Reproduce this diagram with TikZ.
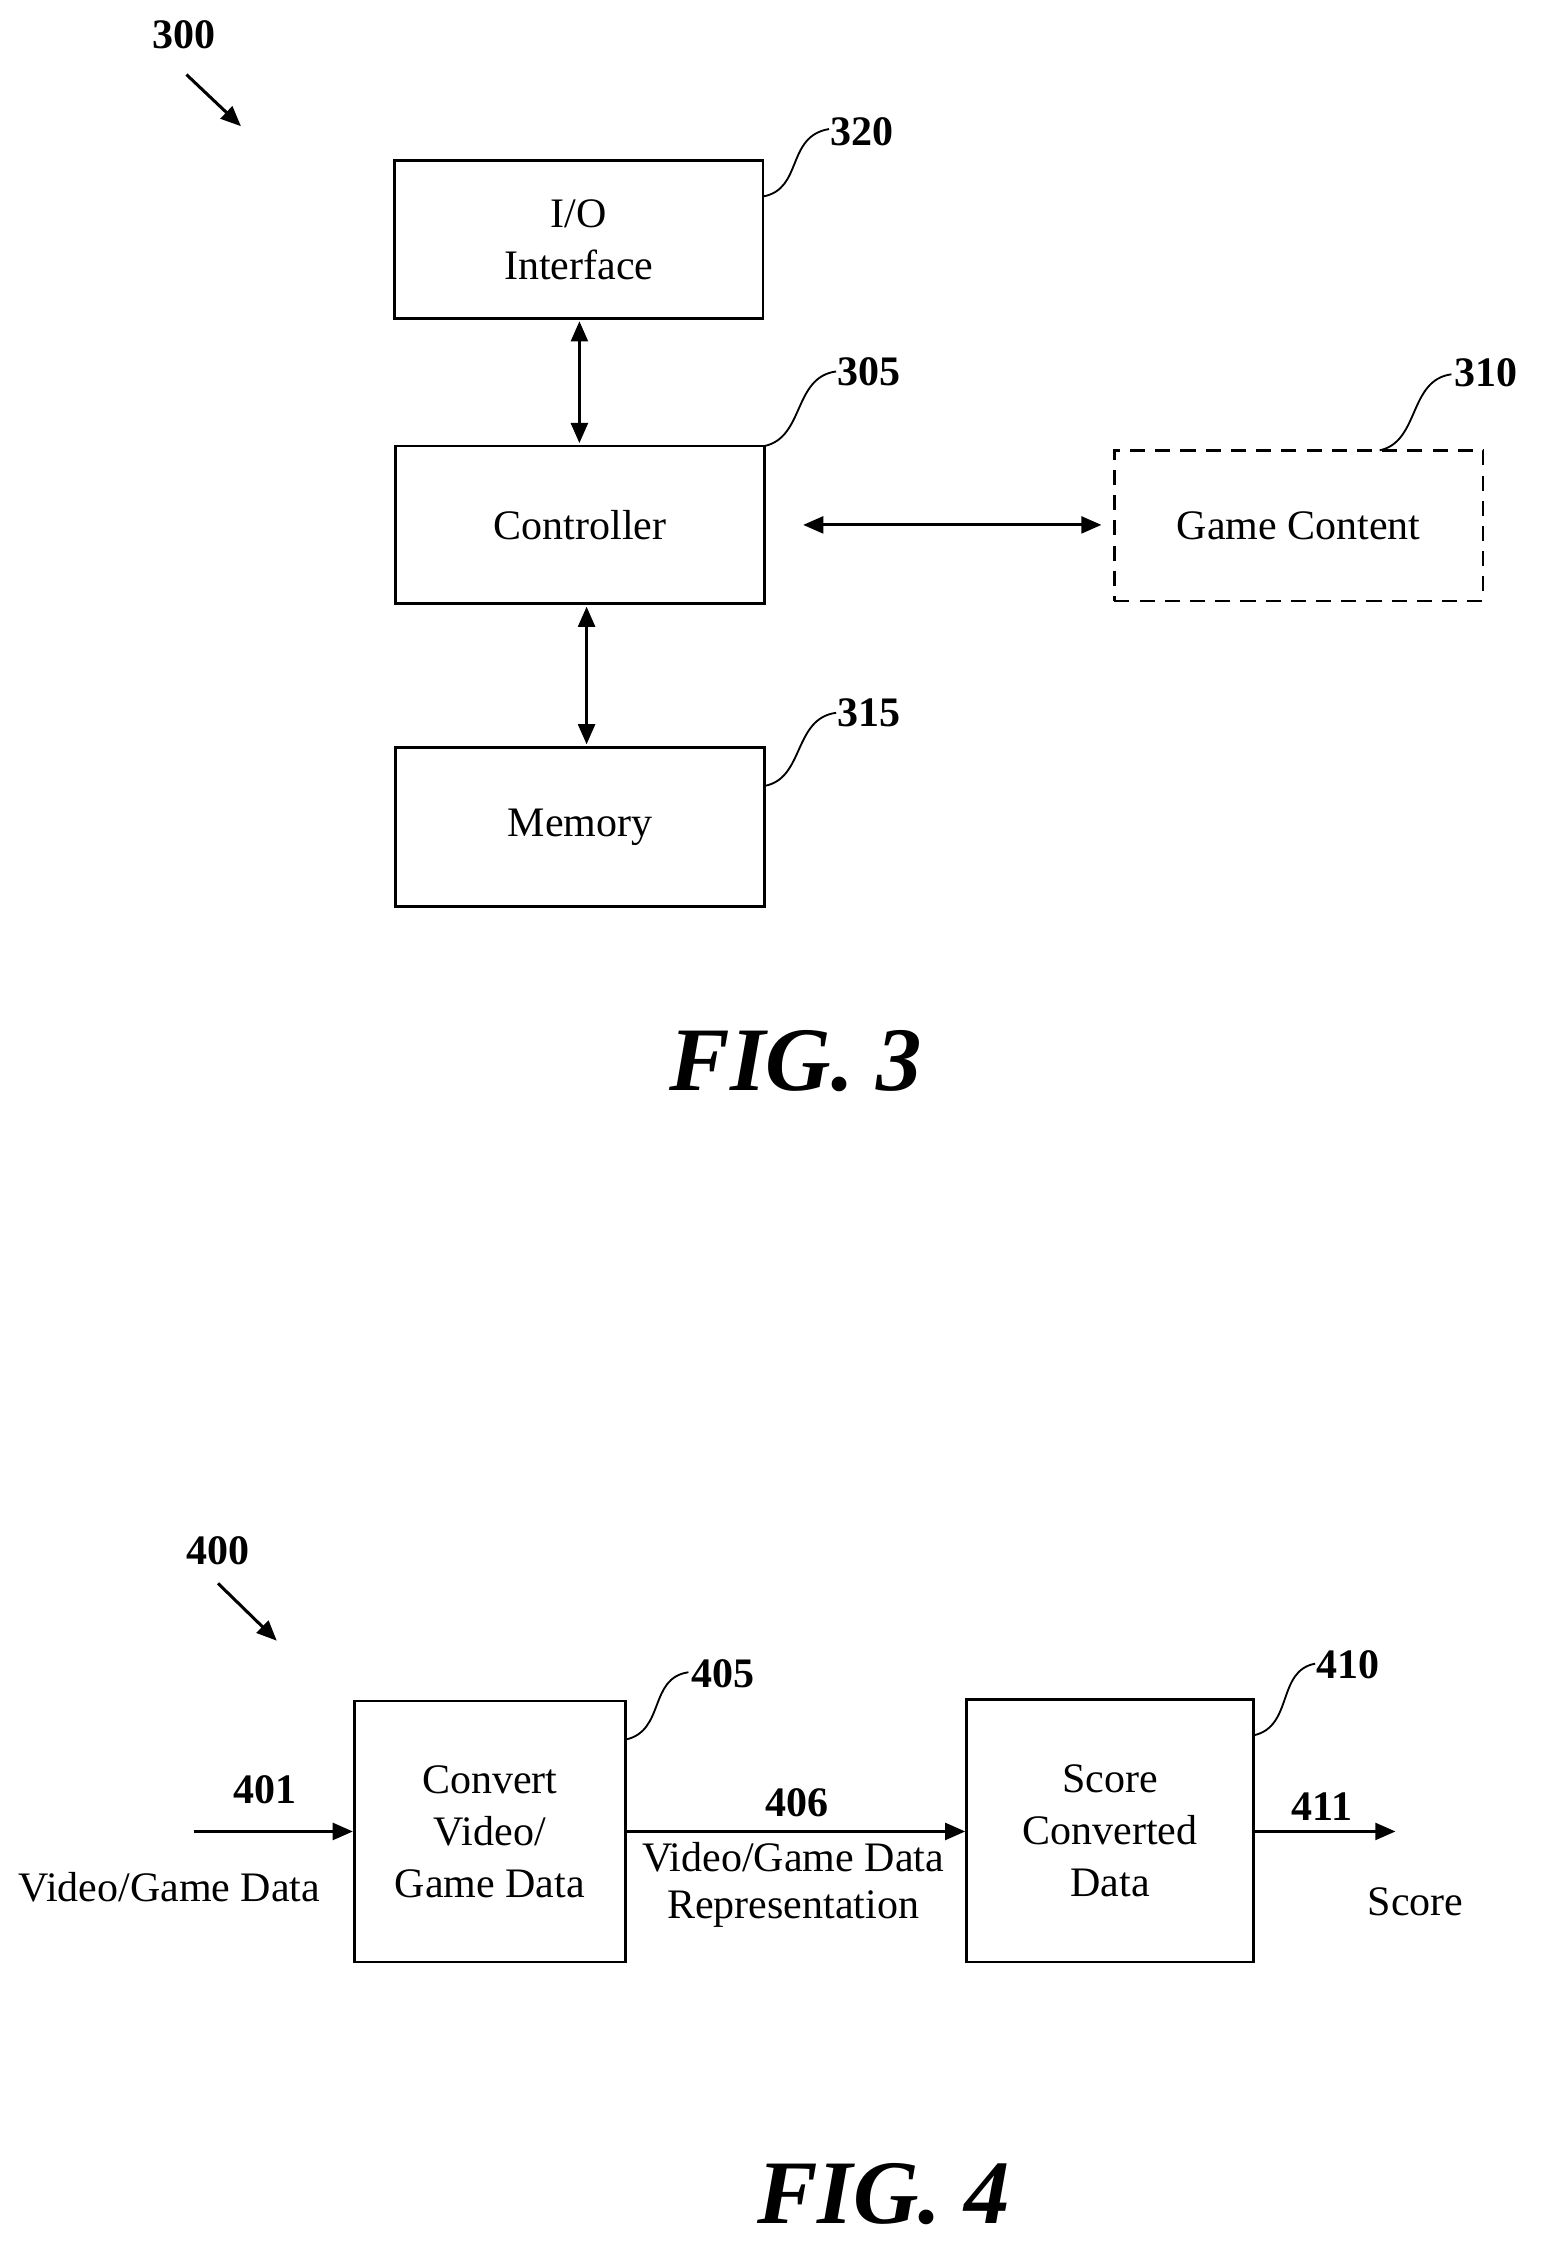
\documentclass[tikz,border=0pt]{standalone}
\usepackage{fontspec}
\setmainfont{Liberation Serif}
\usetikzlibrary{arrows.meta}
\begin{document}
\begin{tikzpicture}[x=0.03cm,y=-0.03cm,
 box/.style={draw,line width=1.6pt,inner sep=0pt,font=\fontsize{25}{31}\selectfont,align=center},
 lbl/.style={font=\bfseries\fontsize{25}{30}\selectfont},
 txt/.style={font=\fontsize{25}{31}\selectfont,align=center},
 fig/.style={font=\bfseries\itshape\fontsize{54}{60}\selectfont},
 arr/.style={line width=1.8pt,-{Triangle[length=12pt,width=10pt]}},
 darr/.style={line width=1.8pt,{Triangle[length=12pt,width=10pt]}-{Triangle[length=12pt,width=10pt]}},
 lead/.style={line width=1.1pt}]
\useasboundingbox (0,0) rectangle (1080,1580);
% FIG 3
\node[box,minimum width=257*0.03cm,minimum height=110*0.03cm] (io) at (403.5,167) {I/O\\Interface};
\node[box,minimum width=257*0.03cm,minimum height=110*0.03cm] (ctl) at (404.5,366) {Controller};
\node[box,minimum width=257*0.03cm,minimum height=111*0.03cm] (mem) at (404.5,576.5) {Memory};
\node[box,dashed,dash pattern=on 9pt off 6pt,minimum width=257*0.03cm,minimum height=105*0.03cm] (gc) at (905.5,366.5) {Game Content};
\draw[darr] (404,224) -- (404,309);
\draw[darr] (409,423) -- (409,519);
\draw[darr] (560,366) -- (768,366);
\node[lbl] (l320) at (601,92) {320};
\node[lbl] (l305) at (606,259) {305};
\node[lbl] (l310) at (1036,260) {310};
\node[lbl] (l315) at (606,497) {315};
\node[lbl] (l300) at (128,24) {300};
\draw[lead] (532,137) .. controls (560,132) and (548,95) .. (578,90);
\draw[lead] (533,311) .. controls (561,305) and (553,263) .. (583,259);
\draw[lead] (962,314) .. controls (990,308) and (982,265) .. (1012,261);
\draw[lead] (533,548) .. controls (561,543) and (553,501) .. (583,497);
\draw[arr] (130,52) -- (168,88);
\node[fig] (f3) at (555,740) {FIG. 3};
% FIG 4
\node[lbl] (l400) at (152,1081) {400};
\draw[arr] (152,1104) -- (193,1144);
\node[box,minimum width=189*0.03cm,minimum height=182*0.03cm] (cv) at (341.5,1277) {Convert\\Video/\\Game Data};
\node[box,minimum width=200*0.03cm,minimum height=183*0.03cm] (sc) at (774,1276.5) {Score\\Converted\\Data};
\coordinate (in) at (135,1277);
\coordinate (out) at (973,1277);
\draw[arr] (in) -- (cv.west |- in);
\draw[arr] (cv.east |- in) -- (sc.west |- in);
\draw[arr] (sc.east |- out) -- (out);
\node[lbl] (l401) at (185,1248) {401};
\node[txt] (t401) at (118,1316) {Video/Game Data};
\node[lbl] (l406) at (556,1257) {406};
\node[txt] (t406) at (553,1314) {Video/Game Data\\[-3pt]Representation};
\node[lbl] (l411) at (922,1260) {411};
\node[txt] (t411) at (987,1326) {Score};
\node[lbl] (l405) at (504,1167) {405};
\node[lbl] (l410) at (940,1161) {410};
\draw[lead] (436,1213) .. controls (464,1207) and (452,1170) .. (480,1166);
\draw[lead] (874,1210) .. controls (902,1204) and (890,1165) .. (917,1160);
\node[fig] (f4) at (616,1530) {FIG. 4};
\end{tikzpicture}
\end{document}
